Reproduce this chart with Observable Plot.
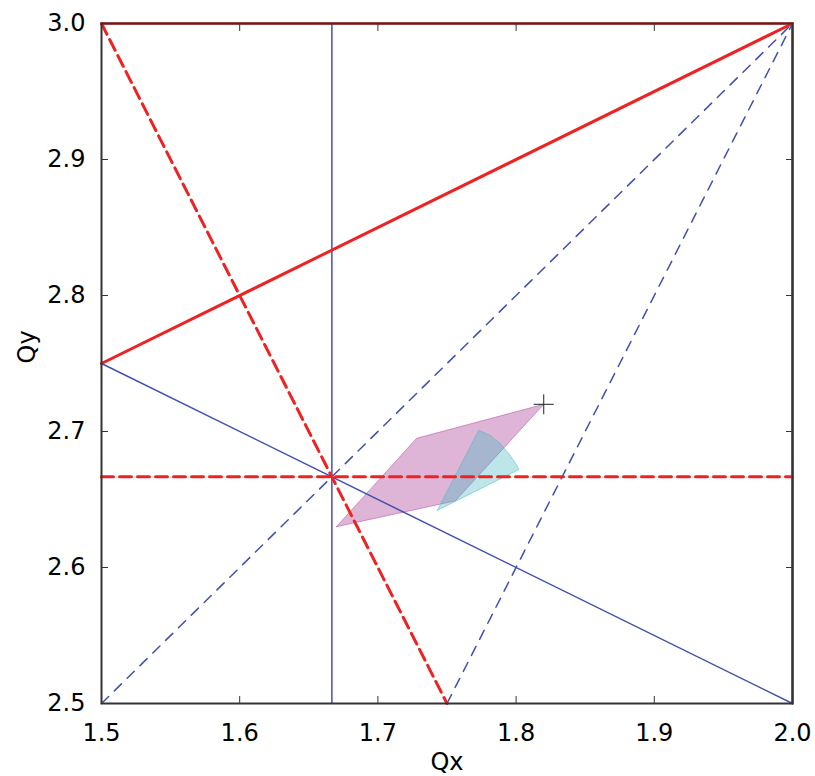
<!DOCTYPE html>
<html><head><meta charset="utf-8">
<script src="https://cdn.jsdelivr.net/npm/d3@7"></script>
<script src="https://cdn.jsdelivr.net/npm/@observablehq/plot@0.6"></script>
<style>body{margin:0;background:#fff}</style>
</head><body><div id="chart"></div>
<script>
const xTicks = [1.5, 1.6, 1.7, 1.8, 1.9, 2.0];
const yTicks = [2.5, 2.6, 2.7, 2.8, 2.9, 3.0];

// red lines
const redSolid = [[1.5, 2.75], [2.0, 3.0]];
const redDashDiag = [[1.5, 3.0], [1.75, 2.5]];
const redDashHoriz = [[1.5, 2.6667], [2.0, 2.6667]];
const redEdge = [[1.5, 3.0], [2.0, 3.0], [2.0, 2.5]];

// blue lines
const blueVert = [[1.6667, 2.5], [1.6667, 3.0]];
const blueSolid = [[1.5, 2.75], [2.0, 2.5]];
const blueDash1 = [[1.5, 2.5], [2.0, 3.0]];
const blueDash2 = [[1.75, 2.5], [2.0, 3.0]];

// regions
const magentaPoly = [[1.670, 2.630], [1.728, 2.695], [1.820, 2.720], [1.756, 2.649], [1.670, 2.630]];
const cyanPoly = [[1.743, 2.642], [1.773, 2.701], [1.7815, 2.697], [1.7887, 2.691], [1.7947, 2.6836],
                  [1.7996, 2.6767], [1.802, 2.672], [1.743, 2.642]];
const plusPoint = [[1.82, 2.72]];

const RED = "#ee2222", BLUE = "#4250ad";
const X = d => d[0], Y = d => d[1];

const chart = Plot.plot({
  width: 815, height: 776,
  marginLeft: 101, marginRight: 23, marginTop: 23, marginBottom: 73,
  style: {fontFamily: "DejaVu Sans", fontSize: "24px", background: "#fff", color: "#000"},
  x: {domain: [1.5, 2.0], label: null},
  y: {domain: [2.5, 3.0], label: null},
  marks: [
    Plot.line(magentaPoly, {x: X, y: Y, fill: "#b0459c", fillOpacity: 0.4, stroke: "#b0459c", strokeOpacity: 0.5, strokeWidth: 1}),
    Plot.line(cyanPoly, {x: X, y: Y, fill: "#40b8c0", fillOpacity: 0.35, stroke: "#40b8c0", strokeOpacity: 0.5, strokeWidth: 1}),
    Plot.line(redEdge, {x: X, y: Y, stroke: RED, strokeWidth: 2.5}),
    Plot.line(blueVert, {x: X, y: Y, stroke: BLUE, strokeWidth: 1.5}),
    Plot.line(blueSolid, {x: X, y: Y, stroke: BLUE, strokeWidth: 1.5}),
    Plot.line(blueDash1, {x: X, y: Y, stroke: BLUE, strokeWidth: 1.5, strokeDasharray: "10,8"}),
    Plot.line(blueDash2, {x: X, y: Y, stroke: BLUE, strokeWidth: 1.5, strokeDasharray: "10,8"}),
    Plot.line(redSolid, {x: X, y: Y, stroke: RED, strokeWidth: 3}),
    Plot.line(redDashDiag, {x: X, y: Y, stroke: RED, strokeWidth: 3, strokeDasharray: "12,6"}),
    Plot.line(redDashHoriz, {x: X, y: Y, stroke: RED, strokeWidth: 3, strokeDasharray: "12,6"}),
    Plot.dot(plusPoint, {x: X, y: Y, symbol: "plus", r: 6.5, stroke: "#222", strokeWidth: 1}),
    Plot.frame({stroke: "#333", strokeWidth: 2}),
    Plot.axisX(xTicks, {anchor: "bottom", tickSize: 0, tickPadding: 20, fontSize: 24, tickFormat: d3.format(".1f"), label: null}),
    Plot.axisY(yTicks, {anchor: "left", tickSize: 0, tickPadding: 16, fontSize: 24, tickFormat: d3.format(".1f"), label: null}),
    Plot.axisX(xTicks, {anchor: "bottom", tickSize: -7, tickFormat: () => "", label: null, stroke: "#333"}),
    Plot.axisX(xTicks, {anchor: "top", tickSize: -7, tickFormat: () => "", label: null, stroke: "#333"}),
    Plot.axisY(yTicks, {anchor: "left", tickSize: -7, tickFormat: () => "", label: null, stroke: "#333"}),
    Plot.axisY(yTicks, {anchor: "right", tickSize: -7, tickFormat: () => "", label: null, stroke: "#333"}),
    Plot.text(["Qx"], {frameAnchor: "bottom", text: d => d, dy: 59, lineAnchor: "middle", fontSize: 24}),
    Plot.text(["Qy"], {frameAnchor: "left", text: d => d, dx: -74, rotate: -90, lineAnchor: "middle", fontSize: 24})
  ]
});
document.getElementById("chart").appendChild(chart);
</script>
</body></html>
